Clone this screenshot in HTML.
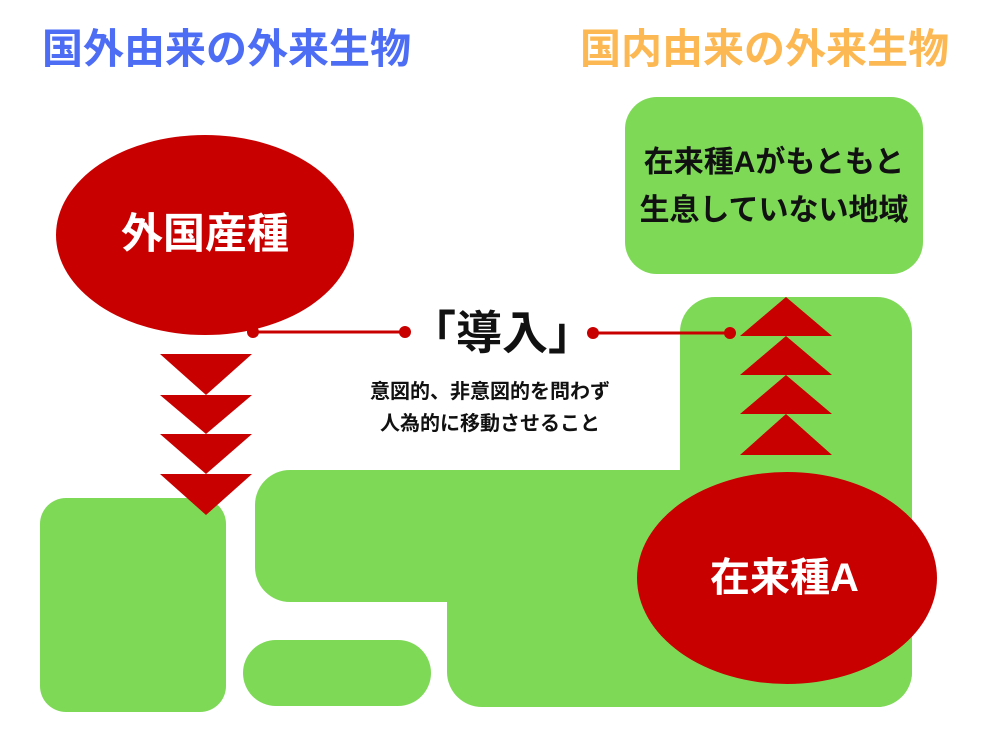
<!DOCTYPE html>
<html><head><meta charset="utf-8"><style>
body{margin:0;width:1000px;height:750px;background:#fff;overflow:hidden;position:relative;font-family:"Liberation Sans","Noto Sans CJK JP",sans-serif;font-weight:bold}
.t{position:absolute;white-space:nowrap;line-height:1}
</style></head><body>
<svg width="1000" height="750" style="position:absolute;left:0;top:0">
<g fill="#7ed957">
<rect x="40" y="498" width="186" height="214" rx="26"/>
<rect x="625" y="97" width="298" height="177" rx="32"/>
<rect x="680" y="297" width="232" height="410" rx="35"/>
<rect x="255" y="470" width="657" height="132" rx="35"/>
<rect x="447" y="470" width="465" height="237" rx="35"/>
<rect x="243" y="640" width="188" height="66" rx="33"/>
</g>
<g fill="#c80000">
<ellipse cx="205" cy="235" rx="149" ry="100"/>
<ellipse cx="787" cy="578" rx="150" ry="106"/>
<polygon points="160,354 252,354 206,395"/>
<polygon points="160,395 252,395 206,434"/>
<polygon points="160,434 252,434 206,474"/>
<polygon points="160,474 252,474 206,515"/>
<polygon points="740,336 832,336 786,297"/>
<polygon points="740,375 832,375 786,336"/>
<polygon points="740,414 832,414 786,375"/>
<polygon points="740,455 832,455 786,414"/>
</g>
<g stroke="#c80000" stroke-width="3"><line x1="253" y1="332" x2="405" y2="332"/><line x1="593" y1="333" x2="730" y2="333"/></g>
<g fill="#c80000"><circle cx="253" cy="332" r="6"/><circle cx="405" cy="332" r="6"/><circle cx="593" cy="333" r="6"/><circle cx="730" cy="333" r="6"/></g>
</svg>
<div class="t" style="left:42px;top:29px;font-size:41px;color:#4d6df5">国外由来の外来生物</div>
<div class="t" style="left:580px;top:29px;font-size:41px;color:#fcb852">国内由来の外来生物</div>
<div class="t" style="left:121px;top:213px;font-size:42px;color:#fff">外国産種</div>
<div class="t" style="left:710px;top:558px;font-size:40px;color:#fff">在来種A</div>
<div class="t" style="left:625px;top:139px;width:298px;text-align:center;font-size:30px;line-height:48px;white-space:normal;color:#111">在来種Aがもともと<br>生息していない地域</div>
<div class="t" style="left:410px;top:310px;width:180px;text-align:center;font-size:46px;color:#111">「導入」</div>
<div class="t" style="left:340px;top:376px;width:300px;text-align:center;font-size:20px;line-height:32px;color:#111">意図的、非意図的を問わず<br>人為的に移動させること</div>
</body></html>
